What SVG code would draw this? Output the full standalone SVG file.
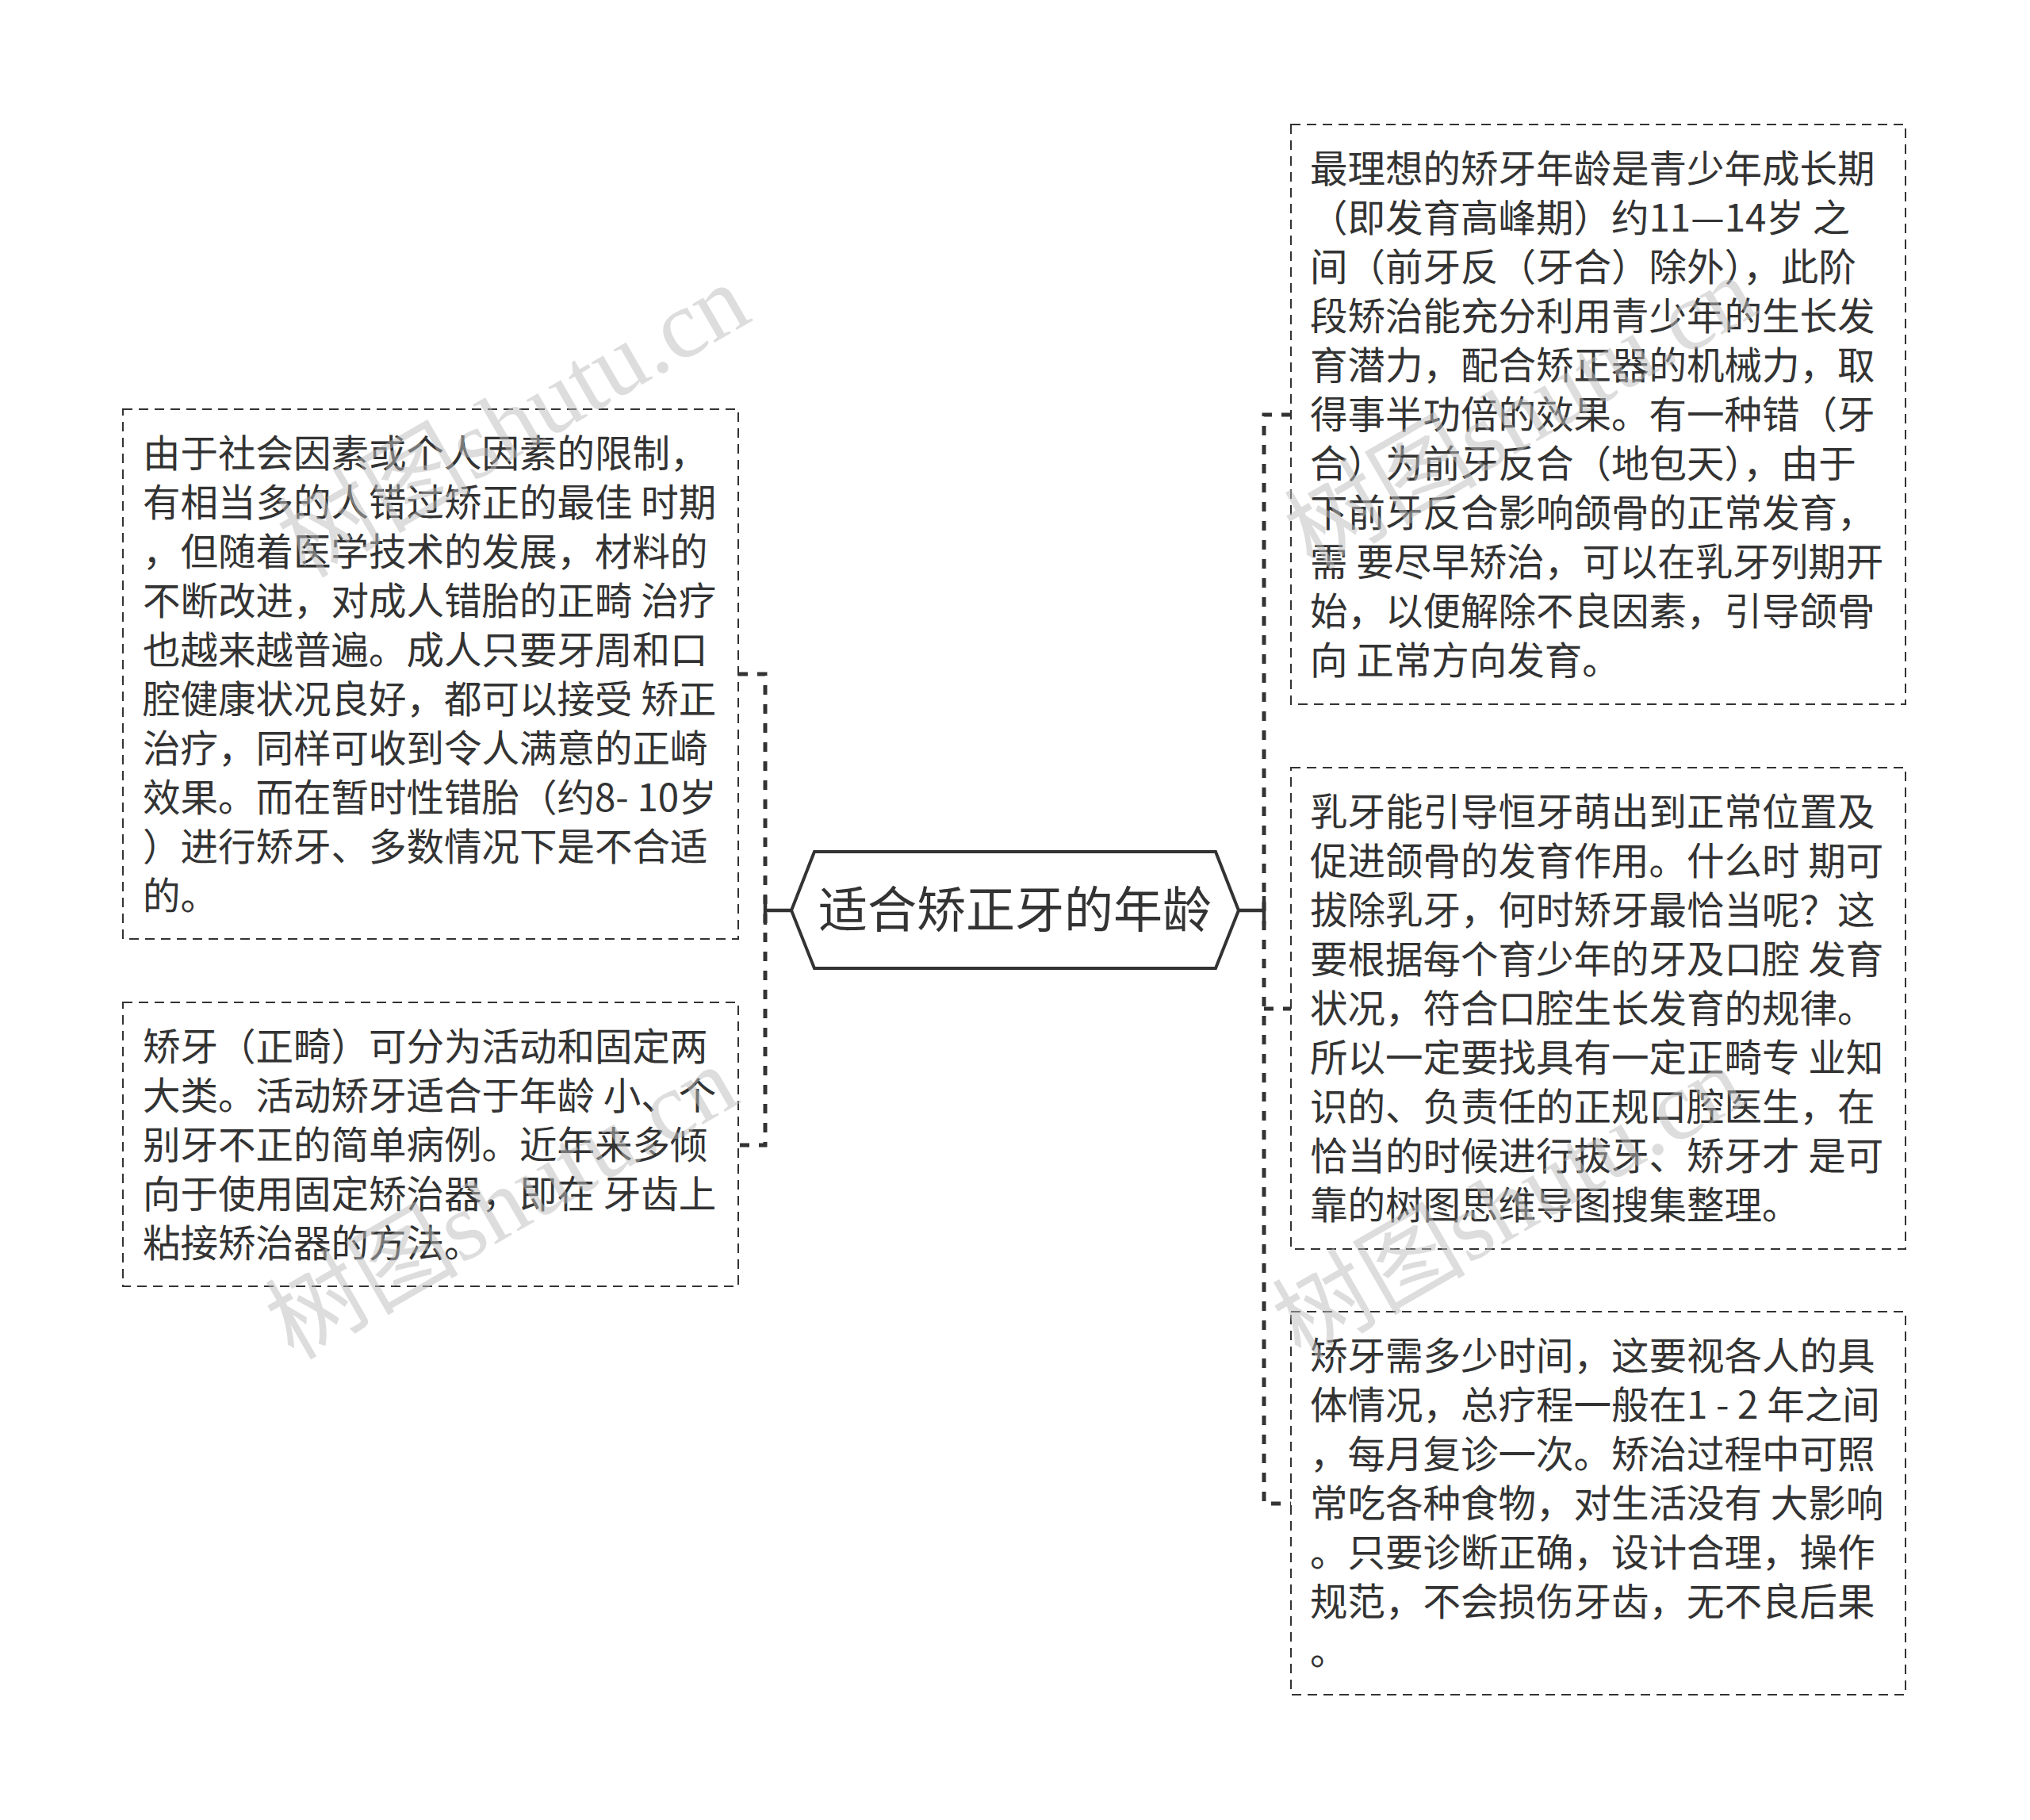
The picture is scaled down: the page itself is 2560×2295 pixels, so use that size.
<svg xmlns="http://www.w3.org/2000/svg" width="2560" height="2295" viewBox="0 0 2560 2295">
<style>
.box{fill:#fff;stroke:#333;stroke-width:2;stroke-dasharray:12 8}
.t{font-family:"Noto Sans CJK SC","Noto Sans",sans-serif;font-size:47.5px;fill:#333}
.ct{font-family:"Noto Sans CJK SC","Noto Sans",sans-serif;font-size:62px;fill:#333}
.dash{fill:none;stroke:#333;stroke-width:5;stroke-dasharray:12 12}
.solid{fill:none;stroke:#333;stroke-width:4.5}
.wm{font-family:"Liberation Serif","Noto Sans CJK SC",serif;font-size:122px;fill:#bbb;fill-opacity:0.5}
</style>
<rect width="2560" height="2295" fill="#fff"/>
<g id="connectors">
<path class="dash" d="M931,850 H965 V1444 H931"/>
<path class="solid" d="M998,1148 H965 M965,1130 V1166"/>
<path class="dash" d="M1628,523 H1594 V1896 H1628 M1594,1272 H1628"/>
<path class="solid" d="M1562,1148 H1594 M1594,1130 V1166"/>
</g>
<g id="center">
<polygon points="998,1148 1027,1074 1533,1074 1562,1148 1533,1221 1027,1221" fill="#fff" stroke="#333" stroke-width="4"/>
<text class="ct" x="1280" y="1170" text-anchor="middle">适合矫正牙的年龄</text>
</g>
<g id="left1">
<rect class="box" x="155" y="516" width="776" height="668"/>
<text class="t" x="180" y="589">
<tspan x="180">由于社会因素或个人因素的限制，</tspan>
<tspan x="180" dy="62">有相当多的人错过矫正的最佳 时期</tspan>
<tspan x="180" dy="62">，但随着医学技术的发展，材料的</tspan>
<tspan x="180" dy="62">不断改进，对成人错胎的正畸 治疗</tspan>
<tspan x="180" dy="62">也越来越普遍。成人只要牙周和口</tspan>
<tspan x="180" dy="62">腔健康状况良好，都可以接受 矫正</tspan>
<tspan x="180" dy="62">治疗，同样可收到令人满意的正崎</tspan>
<tspan x="180" dy="62">效果。而在暂时性错胎（约8- 10岁</tspan>
<tspan x="180" dy="62">）进行矫牙、多数情况下是不合适</tspan>
<tspan x="180" dy="62">的。</tspan>
</text>
</g>
<g id="left2">
<rect class="box" x="155" y="1264" width="776" height="358"/>
<text class="t" x="180" y="1337">
<tspan x="180">矫牙（正畸）可分为活动和固定两</tspan>
<tspan x="180" dy="62">大类。活动矫牙适合于年龄 小、个</tspan>
<tspan x="180" dy="62">别牙不正的简单病例。近年来多倾</tspan>
<tspan x="180" dy="62">向于使用固定矫治器，即在 牙齿上</tspan>
<tspan x="180" dy="62">粘接矫治器的方法。</tspan>
</text>
</g>
<g id="right1">
<rect class="box" x="1628" y="157" width="775" height="731"/>
<text class="t" x="1652" y="230">
<tspan x="1652">最理想的矫牙年龄是青少年成长期</tspan>
<tspan x="1652" dy="62">（即发育高峰期）约11—14岁 之</tspan>
<tspan x="1652" dy="62">间（前牙反（牙合）除外），此阶</tspan>
<tspan x="1652" dy="62">段矫治能充分利用青少年的生长发</tspan>
<tspan x="1652" dy="62">育潜力，配合矫正器的机械力，取</tspan>
<tspan x="1652" dy="62">得事半功倍的效果。有一种错（牙</tspan>
<tspan x="1652" dy="62">合）为前牙反合（地包天），由于</tspan>
<tspan x="1652" dy="62">下前牙反合影响颌骨的正常发育，</tspan>
<tspan x="1652" dy="62">需 要尽早矫治，可以在乳牙列期开</tspan>
<tspan x="1652" dy="62">始，以便解除不良因素，引导颌骨</tspan>
<tspan x="1652" dy="62">向 正常方向发育。</tspan>
</text>
</g>
<g id="right2">
<rect class="box" x="1628" y="968" width="775" height="607"/>
<text class="t" x="1652" y="1041">
<tspan x="1652">乳牙能引导恒牙萌出到正常位置及</tspan>
<tspan x="1652" dy="62">促进颌骨的发育作用。什么时 期可</tspan>
<tspan x="1652" dy="62">拔除乳牙，何时矫牙最恰当呢？这</tspan>
<tspan x="1652" dy="62">要根据每个育少年的牙及口腔 发育</tspan>
<tspan x="1652" dy="62">状况，符合口腔生长发育的规律。</tspan>
<tspan x="1652" dy="62">所以一定要找具有一定正畸专 业知</tspan>
<tspan x="1652" dy="62">识的、负责任的正规口腔医生，在</tspan>
<tspan x="1652" dy="62">恰当的时候进行拔牙、矫牙才 是可</tspan>
<tspan x="1652" dy="62">靠的树图思维导图搜集整理。</tspan>
</text>
</g>
<g id="right3">
<rect class="box" x="1628" y="1654" width="775" height="483"/>
<text class="t" x="1652" y="1727">
<tspan x="1652">矫牙需多少时间，这要视各人的具</tspan>
<tspan x="1652" dy="62">体情况，总疗程一般在1 - 2 年之间</tspan>
<tspan x="1652" dy="62">，每月复诊一次。矫治过程中可照</tspan>
<tspan x="1652" dy="62">常吃各种食物，对生活没有 大影响</tspan>
<tspan x="1652" dy="62">。只要诊断正确，设计合理，操作</tspan>
<tspan x="1652" dy="62">规范，不会损伤牙齿，无不良后果</tspan>
<tspan x="1652" dy="62">。</tspan>
</text>
</g>
<g id="watermarks">
<text class="wm" transform="translate(385,730) rotate(-30)">树图shutu.cn</text>
<text class="wm" transform="translate(370,1716) rotate(-30)">树图shutu.cn</text>
<text class="wm" transform="translate(1655,720) rotate(-30)">树图shutu.cn</text>
<text class="wm" transform="translate(1640,1716) rotate(-30)">树图shutu.cn</text>
</g>
</svg>
